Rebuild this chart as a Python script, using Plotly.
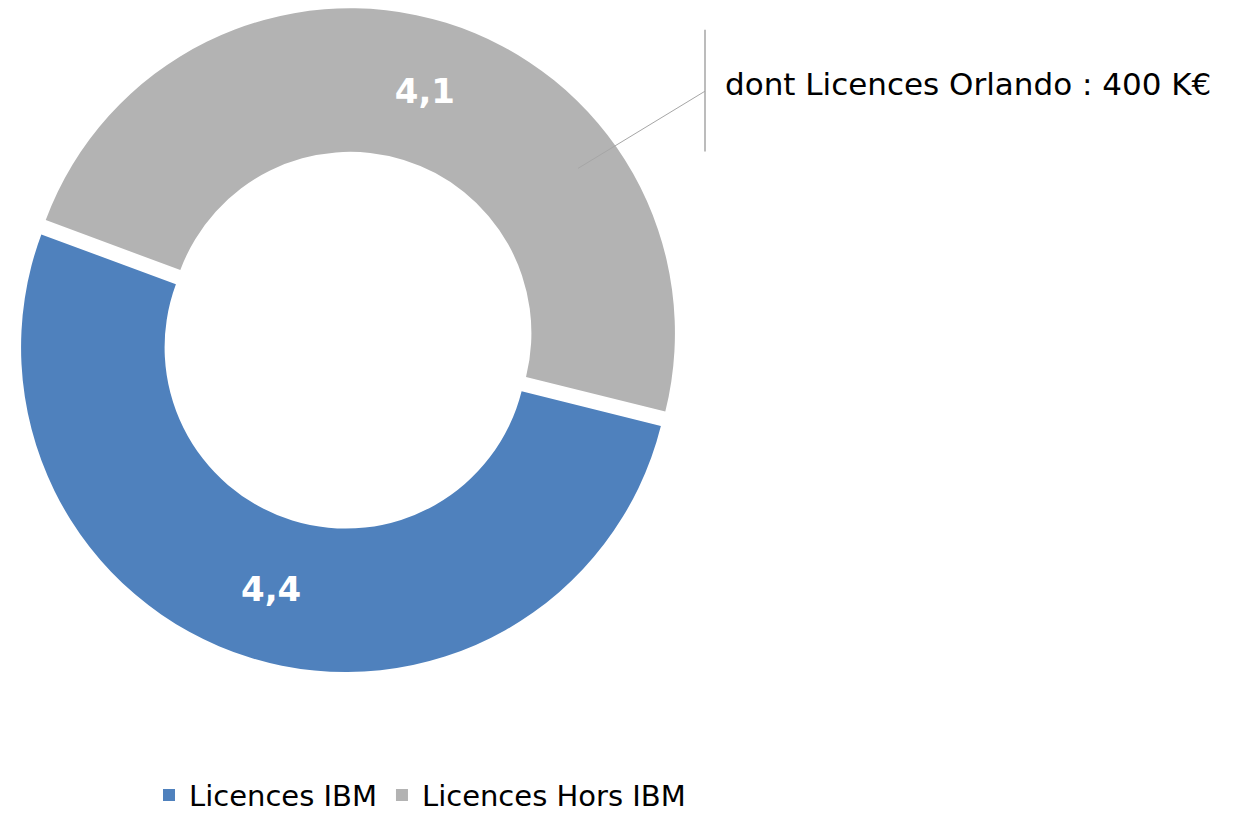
import plotly.graph_objects as go

labels = ["Licences IBM", "Licences Hors IBM"]
values = [4.4, 4.1]
colors = ["#4f81bd", "#b3b3b3"]
note_text = "dont Licences Orlando : 400 K€"

W, H = 1240, 813
OFF = 8  # page body margin offset
font_family = "DejaVu Sans, Verdana, sans-serif"

D = 671
cx, cy = 348 - OFF, 340 - OFF
x0 = max(cx - D / 2, 0)
y0 = max(cy - D / 2, 0)

fig = go.Figure()
fig.add_trace(go.Pie(
    labels=labels,
    values=values,
    sort=False,
    direction="clockwise",
    rotation=104,
    hole=0.558,
    pull=[0.023, 0.023],
    marker=dict(colors=colors, line=dict(width=0)),
    texttemplate="<b>%{value:.1f}</b>",
    textposition="inside",
    insidetextorientation="horizontal",
    textfont=dict(family=font_family, size=34, color="white"),
    hoverinfo="label+value",
    domain=dict(x=[x0 / W, (x0 + D) / W], y=[1 - (y0 + D) / H, 1 - y0 / H]),
))

line_color = "#a6a6a6"
fig.add_shape(type="line", xref="paper", yref="paper",
              x0=(705 - OFF) / W, x1=(705 - OFF) / W,
              y0=1 - (30 - OFF) / H, y1=1 - (153 - OFF) / H,
              line=dict(color=line_color, width=1.5))
fig.add_shape(type="line", xref="paper", yref="paper",
              x0=(578 - OFF) / W, y0=1 - (170 - OFF) / H,
              x1=(705 - OFF) / W, y1=1 - (92 - OFF) / H,
              line=dict(color=line_color, width=1))
fig.add_annotation(xref="paper", yref="paper", x=(725 - OFF - 2) / W, y=1 - (85 - OFF) / H,
                   xanchor="left", yanchor="middle", showarrow=False,
                   text=note_text,
                   font=dict(family=font_family, size=31, color="black"))

fig.update_layout(
    width=W, height=H,
    margin=dict(l=0, r=0, t=0, b=0),
    paper_bgcolor="white",
    plot_bgcolor="white",
    separators=", ",
    showlegend=True,
    legend=dict(orientation="h", x=141 / W, xanchor="left",
                y=1 - (803 - OFF) / H, yanchor="middle",
                font=dict(family=font_family, size=29, color="black"),
                itemwidth=30, traceorder="normal"),
)

fig.write_html("out.html")
